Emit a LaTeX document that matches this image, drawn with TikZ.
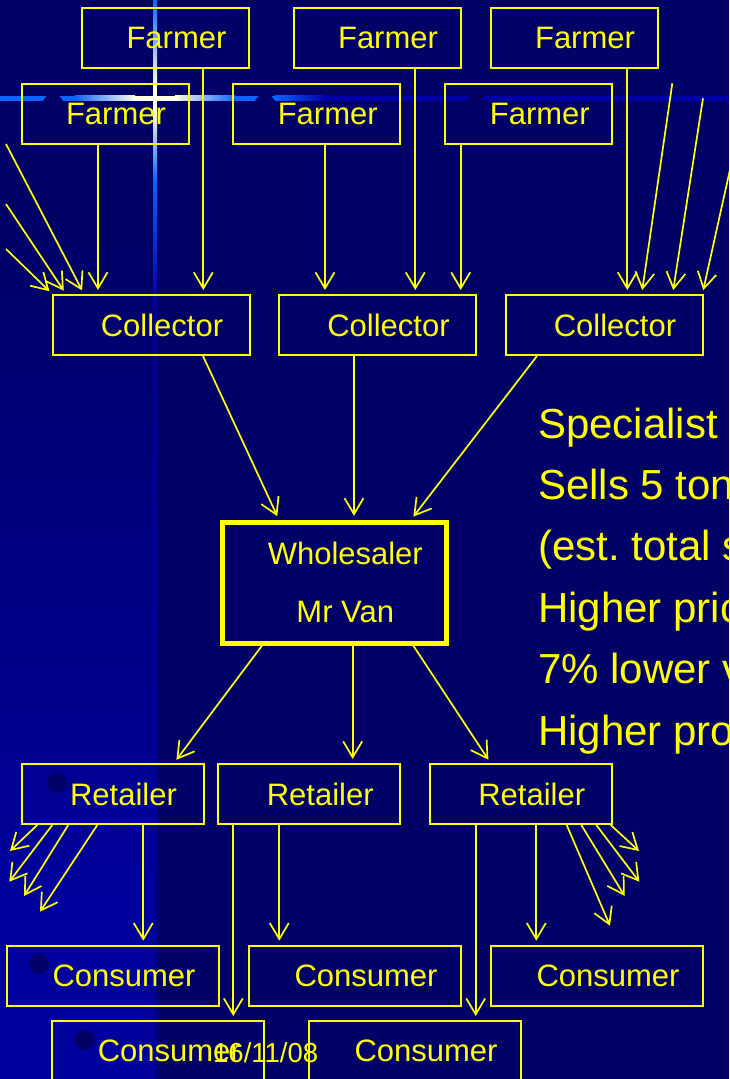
\documentclass[tikz,border=0pt]{standalone}
\usepackage{fontspec}
\setmainfont{Liberation Sans}
\usetikzlibrary{arrows.meta}
\definecolor{slidebg}{HTML}{000066}
\definecolor{stripbg}{HTML}{00009C}
\definecolor{lineblue}{HTML}{0A64FF}
\definecolor{linedark}{HTML}{0000A8}
\definecolor{glow}{HTML}{FFFFE6}
\definecolor{ink}{HTML}{FFFF00}
\frenchspacing

\begin{document}
\begin{tikzpicture}[x=1pt, y=-1pt,
    box/.style={draw=ink, line width=2pt, text=ink, minimum height=60pt, inner sep=0pt, font=\fontsize{31}{37}\selectfont, execute at begin node=\hspace*{22pt}},
    farmer/.style={box, minimum width=167pt},
    collector/.style={box, minimum width=197pt},
    retailer/.style={box, minimum width=182pt},
    consumer/.style={box, minimum width=212pt},
    arr/.style={-{Straight Barb[length=16pt,width=19pt]}, line width=1.7pt, draw=ink, shorten >=4pt},
    spread/.style={arr, shorten >=0pt}
]
\useasboundingbox (0,0) rectangle (729,1079);
\clip (0,0) rectangle (729,1079);

\fill[slidebg] (0,0) rectangle (729,1079);
\shade[top color=slidebg, bottom color=stripbg] (0,200) rectangle (154,900);
\fill[stripbg] (0,900) rectangle (154,1079);

\shade[top color=lineblue, bottom color=glow] (153,0) rectangle (157,85);
\fill[glow] (153,85) rectangle (157,112);
\shade[top color=glow, bottom color=lineblue] (153,112) rectangle (157,180);
\shade[top color=lineblue, bottom color=linedark] (153,180) rectangle (157,300);
\fill[linedark!70!slidebg] (153,300) rectangle (157,1079);

\fill[lineblue] (0,95.7) rectangle (75,100.7);
\shade[left color=lineblue, right color=glow] (75,95.7) rectangle (135,100.7);
\fill[glow] (135,95.7) rectangle (175,100.7);
\shade[left color=glow, right color=lineblue] (175,95.7) rectangle (235,100.7);
\fill[lineblue] (235,95.7) rectangle (275,100.7);
\shade[left color=lineblue, right color=linedark] (275,95.7) rectangle (325,100.7);
\fill[linedark] (325,95.7) rectangle (729,100.7);
\foreach \nx in {53,265,476}
  \fill[slidebg] (\nx-10,100.8) -- (\nx-6,95.6) -- (\nx+6,95.6) -- (\nx+10,100.8) -- cycle;

\foreach \bx/\by in {57/783, 39/964, 85/1040}
  \fill[slidebg] (\bx,\by) circle (10pt);

\node[farmer] (farmerA) at (165.5,38) {Farmer};
\node[farmer] (farmerB) at (377,38) {Farmer};
\node[farmer] (farmerC) at (574,38) {Farmer};
\node[farmer] (farmerD) at (105,113.5) {Farmer};
\node[farmer] (farmerE) at (316.7,113.5) {Farmer};
\node[farmer] (farmerF) at (528.8,113.5) {Farmer};

\node[collector] (collectorA) at (151,325) {Collector};
\node[collector] (collectorB) at (377.5,325) {Collector};
\node[collector] (collectorC) at (604,325) {Collector};

\node[box, line width=5pt, minimum width=223.5pt, minimum height=120.8pt, align=center, font=\fontsize{31}{58}\selectfont] (wholesaler) at (334.3,582.7) {Wholesaler\\Mr Van};

\node[retailer] (retailerA) at (112.5,794) {Retailer};
\node[retailer] (retailerB) at (309.2,794) {Retailer};
\node[retailer] (retailerC) at (520.7,794) {Retailer};

\node[consumer] (consumerA) at (113,975.7) {Consumer};
\node[consumer] (consumerB) at (355,975.7) {Consumer};
\node[consumer] (consumerC) at (597,975.7) {Consumer};
\node[consumer] (consumerD) at (158.3,1051) {Consumer};
\node[consumer] (consumerE) at (415,1051) {Consumer};

\node[text=ink, anchor=north west, inner sep=0pt, align=left, font=\fontsize{42}{61.4}\selectfont] (specialist) at (538,407.5) {Specialist\\Sells 5 ton\\(est. total s\\Higher pric\\7\% lower v\\Higher pro};

\coordinate (westA) at (6,144);
\coordinate (westB) at (6,204);
\coordinate (westC) at (6,249);
\coordinate (eastA) at (672.3,83.3);
\coordinate (eastB) at (703,98.3);
\coordinate (eastC) at (731,165);
\coordinate (outWestA) at (10,851);
\coordinate (outWestB) at (9.3,881.7);
\coordinate (outWestC) at (24,896);
\coordinate (outWestD) at (40,911.7);
\coordinate (outEastA) at (610,925.7);
\coordinate (outEastB) at (624.7,896);
\coordinate (outEastC) at (639.3,881.7);
\coordinate (outEastD) at (639,851);

\draw[arr] (98,0 |- farmerD.south) -- (98,0 |- collectorA.north);
\draw[arr] (203.3,0 |- farmerA.south) -- (203.3,0 |- collectorA.north);
\draw[arr] (325,0 |- farmerE.south) -- (325,0 |- collectorB.north);
\draw[arr] (415.3,0 |- farmerB.south) -- (415.3,0 |- collectorB.north);
\draw[arr] (460.7,0 |- farmerF.south) -- (460.7,0 |- collectorB.north);
\draw[arr] (627.3,0 |- farmerC.south) -- (627.3,0 |- collectorC.north);
\draw[arr] (westA) -- (84,0 |- collectorA.north);
\draw[arr] (westB) -- (66,0 |- collectorA.north);
\draw[arr] (westC) -- (52.3,0 |- collectorA.north);
\draw[arr] (eastA) -- (641.7,0 |- collectorC.north);
\draw[arr] (eastB) -- (672.6,0 |- collectorC.north);
\draw[arr] (eastC) -- (702.4,0 |- collectorC.north);

\draw[arr] (203,0 |- collectorA.south) -- (279,0 |- wholesaler.north);
\draw[arr] (354,0 |- collectorB.south) -- (354,0 |- wholesaler.north);
\draw[arr] (537,0 |- collectorC.south) -- (410.9,0 |- wholesaler.north);

\draw[arr] (262,0 |- wholesaler.south) -- (174,0 |- retailerA.north);
\draw[arr] (352.7,0 |- wholesaler.south) -- (352.7,0 |- retailerB.north);
\draw[arr] (413.3,0 |- wholesaler.south) -- (490.6,0 |- retailerC.north);

\draw[arr] (143.3,0 |- retailerA.south) -- (143.3,0 |- consumerA.north);
\draw[arr] (233.3,0 |- retailerB.south) -- (233.3,0 |- consumerD.north);
\draw[arr] (279.3,0 |- retailerB.south) -- (279.3,0 |- consumerB.north);
\draw[arr] (475.7,0 |- retailerC.south) -- (475.7,0 |- consumerE.north);
\draw[arr] (536.3,0 |- retailerC.south) -- (536.3,0 |- consumerC.north);
\draw[spread] (37.3,0 |- retailerA.south) -- (outWestA);
\draw[spread] (52.3,0 |- retailerA.south) -- (outWestB);
\draw[spread] (68.3,0 |- retailerA.south) -- (outWestC);
\draw[spread] (97.3,0 |- retailerA.south) -- (outWestD);
\draw[spread] (566.7,0 |- retailerC.south) -- (outEastA);
\draw[spread] (581.3,0 |- retailerC.south) -- (outEastB);
\draw[spread] (596.3,0 |- retailerC.south) -- (outEastC);
\draw[spread] (610.7,0 |- retailerC.south) -- (outEastD);

\node[text=ink, anchor=base west, inner sep=0pt, font=\fontsize{27.5}{33}\selectfont] (date) at (213,1062) {16/11/08};
\end{tikzpicture}
\end{document}
